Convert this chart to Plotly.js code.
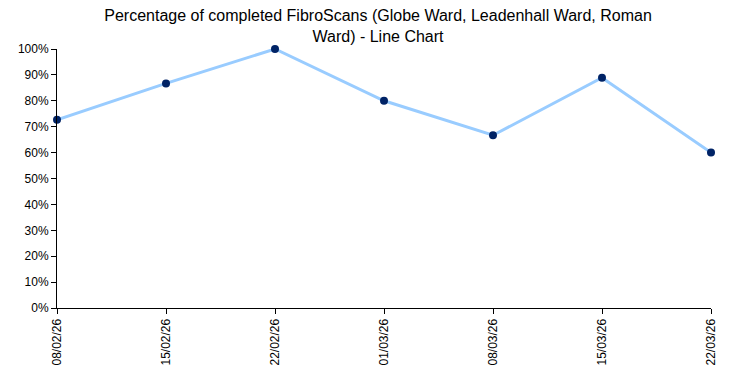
<!DOCTYPE html>
<html>
<head>
<meta charset="utf-8">
<script src="https://cdn.plot.ly/plotly-3.0.1.min.js"></script>
<style>html,body{margin:0;padding:0;background:#fff;}#chart{width:734px;height:385px;}</style>
</head>
<body>
<div id="chart"></div>
<script>
const dates = ["08/02/26", "15/02/26", "22/02/26", "01/03/26", "08/03/26", "15/03/26", "22/03/26"];
const completedPct = [0.727, 0.867, 1.0, 0.80, 0.667, 0.889, 0.60];
const yTickVals = [0, 0.1, 0.2, 0.3, 0.4, 0.5, 0.6, 0.7, 0.8, 0.9, 1.0];
const yTickText = ["0%", "10%", "20%", "30%", "40%", "50%", "60%", "70%", "80%", "90%", "100%"];

const trace = {
  x: dates,
  y: completedPct,
  type: "scatter",
  mode: "lines+markers",
  line: {color: "#99ccff", width: 3},
  marker: {color: "#002366", size: 8},
  cliponaxis: false,
  hoverinfo: "x+y"
};

const layout = {
  width: 734,
  height: 385,
  paper_bgcolor: "#ffffff",
  plot_bgcolor: "#ffffff",
  font: {family: "Liberation Sans, Arial, sans-serif", color: "#000000", size: 12},
  title: {
    text: "Percentage of completed FibroScans (Globe Ward, Leadenhall Ward, Roman<br>Ward) - Line Chart",
    font: {size: 16, color: "#000000", family: "Liberation Sans, Arial, sans-serif"},
    xref: "container", x: 0.515, xanchor: "center",
    yref: "container", y: 0.946, yanchor: "top"
  },
  margin: {l: 57, r: 23, t: 49, b: 77},
  showlegend: false,
  xaxis: {
    type: "category",
    range: [0, 6],
    showgrid: false,
    zeroline: false,
    showline: true,
    linecolor: "#000000",
    linewidth: 1,
    ticks: "outside",
    ticklen: 5,
    tickcolor: "#000000",
    tickangle: -90,
    tickfont: {size: 12, color: "#000000"}
  },
  yaxis: {
    range: [0, 1],
    tickvals: yTickVals,
    ticktext: yTickText,
    showgrid: false,
    zeroline: false,
    showline: true,
    linecolor: "#000000",
    linewidth: 1,
    ticks: "outside",
    ticklen: 5,
    tickcolor: "#000000",
    tickfont: {size: 12, color: "#000000"}
  }
};

Plotly.newPlot("chart", [trace], layout, {displayModeBar: false, staticPlot: true});
</script>
</body>
</html>
